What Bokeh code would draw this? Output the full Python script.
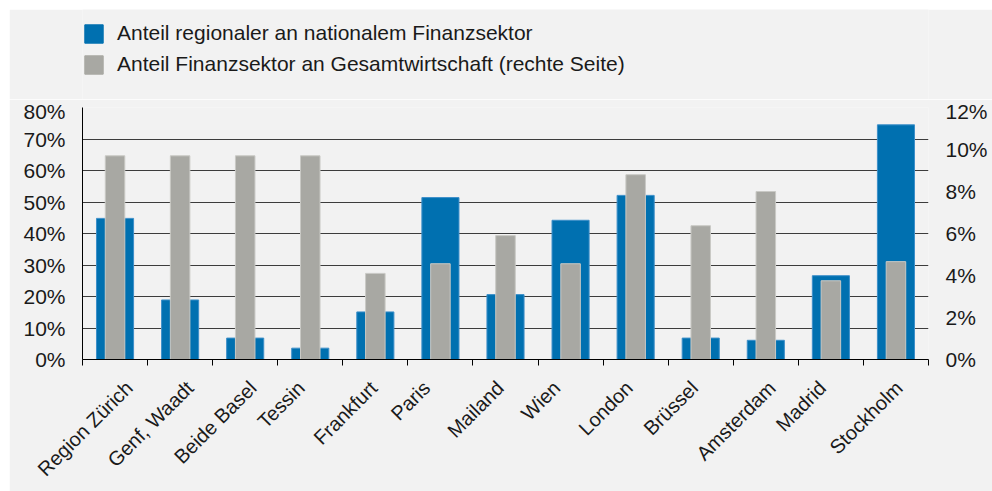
import math
from bokeh.plotting import figure
from bokeh.layouts import column
from bokeh.models import (Range1d, LinearAxis, FixedTicker, Legend, LegendItem,
                          NumeralTickFormatter, ColumnDataSource, Grid)
from bokeh.embed import file_html
from bokeh.resources import INLINE

categories = ["Region Zürich", "Genf, Waadt", "Beide Basel", "Tessin", "Frankfurt",
              "Paris", "Mailand", "Wien", "London", "Brüssel", "Amsterdam",
              "Madrid", "Stockholm"]
regional_share = [0.448, 0.189, 0.068, 0.036, 0.151, 0.514, 0.206, 0.442, 0.521,
                  0.068, 0.061, 0.266, 0.745]
economy_share = [0.097, 0.097, 0.097, 0.097, 0.041, 0.0456, 0.059, 0.0456, 0.088,
                 0.0637, 0.080, 0.0375, 0.0466]
left_ticks = [0, 0.1, 0.2, 0.3, 0.4, 0.5, 0.6, 0.7, 0.8]
right_ticks = [0, 0.02, 0.04, 0.06, 0.08, 0.10, 0.12]
label_blue = "Anteil regionaler an nationalem Finanzsektor"
label_gray = "Anteil Finanzsektor an Gesamtwirtschaft (rechte Seite)"

BG = "#f2f2f2"
BLUE = "#0070b0"
GRAY = "#a8a8a3"
TXT = "#1a1a1a"
FONT = "Liberation Sans"
XFS = 20  # x label font size in px

WIDTH = 983
LEG_H = 90             # height of legend strip
MAIN_H = 482 - LEG_H
BL, BR, BT, BB = 73, 64, 98 - LEG_H, 128
FRAME_W = WIDTH - BL - BR

# approximate Arial/Liberation Sans advance widths (per 1000 em)
W = {"A": 667, "B": 667, "F": 611, "G": 778, "L": 556, "M": 833, "P": 667, "R": 722,
     "S": 667, "T": 611, "W": 944, "Z": 611, "a": 556, "b": 556, "c": 500, "d": 556,
     "e": 556, "f": 278, "g": 556, "h": 556, "i": 222, "k": 500, "l": 222, "m": 833,
     "n": 556, "o": 556, "r": 333, "s": 500, "t": 278, "u": 556, "ü": 556, "z": 500,
     " ": 278, ",": 278}


def text_width(s, size):
    return sum(W.get(ch, 556) for ch in s) * size / 1000.0


n = len(categories)
xs = [i + 0.5 for i in range(n)]
cat_px = FRAME_W / n
src = ColumnDataSource(dict(x=xs, blue=regional_share, gray=economy_share))

# ---------------- legend strip ----------------
# same bar renderers, but the strip's y range lies above the data so only the
# legend swatches are visible
pl = figure(width=WIDTH, height=LEG_H, output_backend="svg", toolbar_location=None,
            x_range=Range1d(0, n), y_range=Range1d(1, 2),
            min_border_left=BL, min_border_right=BR, min_border_top=0,
            min_border_bottom=0, background_fill_color=BG, border_fill_color=BG,
            outline_line_color=None, x_axis_type=None, y_axis_type=None)
lb = pl.vbar(x="x", top="blue", width=0.57, source=src, fill_color=BLUE,
             line_color=BLUE)
lg = pl.vbar(x="x", top="gray", width=0.30, source=src, fill_color=GRAY,
             line_color=GRAY)
pl.xgrid.visible = False
pl.ygrid.visible = False
legend = Legend(items=[LegendItem(label=label_blue, renderers=[lb]),
                       LegendItem(label=label_gray, renderers=[lg])],
                location=(0, 23), orientation="vertical",
                glyph_width=23, glyph_height=23, label_height=23,
                spacing=7, label_standoff=12, padding=0, margin=0,
                border_line_color=None, background_fill_alpha=0,
                label_text_font=FONT, label_text_font_size="21px",
                label_text_color=TXT)
pl.add_layout(legend)

# ---------------- main chart ----------------
p = figure(width=WIDTH, height=MAIN_H,
           output_backend="svg", toolbar_location=None,
           x_range=Range1d(0, n), y_range=Range1d(0, 0.8),
           min_border_left=BL, min_border_right=BR, min_border_top=BT,
           min_border_bottom=BB, background_fill_color=BG, border_fill_color=BG,
           outline_line_color=None, x_axis_type=None, y_axis_type=None)
p.extra_y_ranges = {"right": Range1d(0, 0.12)}

p.vbar(x="x", top="blue", width=0.57, source=src, fill_color=BLUE,
       line_color="#3d8fc9", line_width=1)
p.vbar(x="x", top="gray", width=0.30, source=src, y_range_name="right",
       fill_color=GRAY, line_color="#c9c9c5", line_width=1)

g = Grid(dimension=1, ticker=FixedTicker(ticks=left_ticks))
g.grid_line_color = "#3c3c3c"
g.grid_line_width = 1
p.add_layout(g)

# bottom axis: boundary ticks as minor ticks, label anchors as invisible major ticks
label_pos = [round(x + (0.354 * text_width(c, XFS) - 30) / cat_px, 4)
             for x, c in zip(xs, categories)]
xaxis = LinearAxis(ticker=FixedTicker(ticks=label_pos, minor_ticks=list(range(n + 1))))
xaxis.major_label_overrides = {pos: c for pos, c in zip(label_pos, categories)}
xaxis.major_label_orientation = math.pi / 4
xaxis.major_tick_out = 0
xaxis.major_tick_in = 0
xaxis.minor_tick_out = 6
xaxis.minor_tick_in = 0
xaxis.minor_tick_line_color = "black"
xaxis.axis_line_color = "black"
xaxis.major_label_text_font = FONT
xaxis.major_label_text_font_size = f"{XFS}px"
xaxis.major_label_text_color = TXT
xaxis.major_label_standoff = 19
p.add_layout(xaxis, "below")

yl = LinearAxis(ticker=FixedTicker(ticks=left_ticks),
                formatter=NumeralTickFormatter(format="0%"))
yl.major_tick_out = 0
yl.major_tick_in = 0
yl.minor_tick_line_color = None
yl.axis_line_color = "black"
yl.major_label_text_font = FONT
yl.major_label_text_font_size = "21px"
yl.major_label_text_color = TXT
yl.major_label_standoff = 17
p.add_layout(yl, "left")

yr = LinearAxis(y_range_name="right", ticker=FixedTicker(ticks=right_ticks),
                formatter=NumeralTickFormatter(format="0%"))
yr.major_tick_out = 0
yr.major_tick_in = 0
yr.minor_tick_line_color = None
yr.axis_line_color = None
yr.major_label_text_font = FONT
yr.major_label_text_font_size = "21px"
yr.major_label_text_color = TXT
yr.major_label_standoff = 17
p.add_layout(yr, "right")

layout = column(pl, p, spacing=0, margin=(9, 0, 0, 9))
open("out.html", "w").write(file_html(layout, INLINE))
